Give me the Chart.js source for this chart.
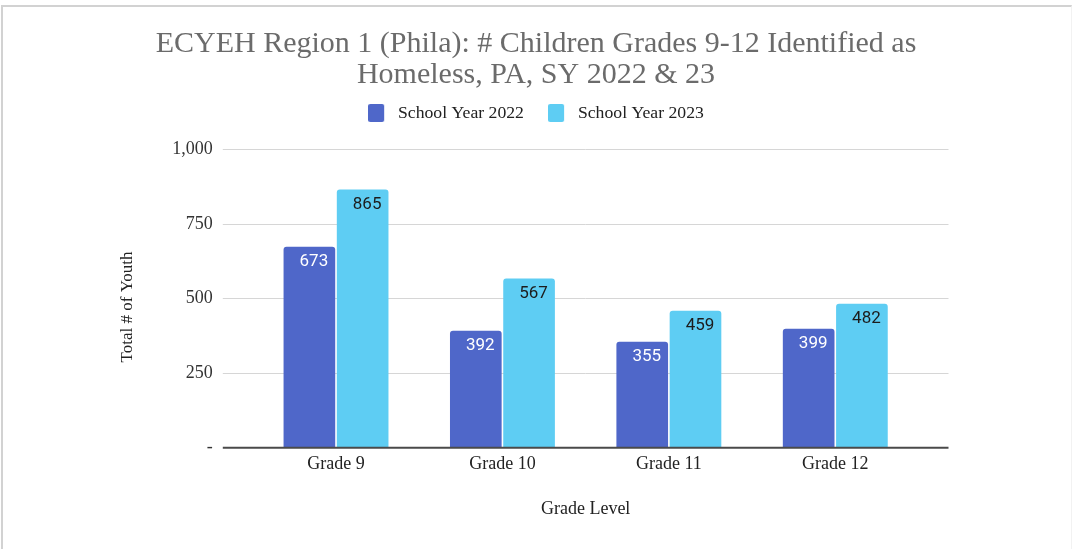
<!DOCTYPE html>
<html>
<head>
<meta charset="utf-8">
<script src="https://cdn.jsdelivr.net/npm/chart.js@4.4.0/dist/chart.umd.min.js"></script>
<style>
  html, body { margin: 0; padding: 0; background: #fff; }
  #wrap { position: relative; width: 1072px; height: 549px; overflow: hidden; }
  #frame { position: absolute; left: 1px; top: 5px; right: 0; bottom: -10px;
           border-top: 2px solid #d2d2d2; border-left: 2px solid #d2d2d2; border-right: 1px solid #f2f2f2; }
  canvas { position: absolute; left: 0; top: 0; }
</style>
</head>
<body>
<div id="wrap">
  <div id="frame"></div>
  <canvas id="grafico" width="1072" height="549"></canvas>
</div>
<script>
// dados do gráfico
const categorias = ["Grade 9", "Grade 10", "Grade 11", "Grade 12"];
const nomesSeries = ["School Year 2022", "School Year 2023"];
const valores2022 = [673, 392, 355, 399];
const valores2023 = [865, 567, 459, 482];
const ticksY = [0, 250, 500, 750, 1000];
const tituloLinhas = ["ECYEH Region 1 (Phila): # Children Grades 9-12 Identified as", "Homeless, PA, SY 2022 & 23"];

const coresBarras = ["#4f67c9", "#5ecdf3"];
const coresRotulos = ["#ffffff", "#1c1c1c"];
const serif = "'Liberation Serif', 'DejaVu Serif', serif";

// caixinha da legenda (retângulo arredondado)
function caixaLegenda(cor) {
  const c = document.createElement("canvas");
  c.width = 21;
  c.height = 18;
  const g = c.getContext("2d");
  g.fillStyle = cor;
  g.beginPath();
  if (g.roundRect) g.roundRect(0, 0, 16, 18, 2);
  else g.rect(0, 0, 16, 18);
  g.fill();
  return c;
}
const caixas = coresBarras.map(caixaLegenda);

// linhas de grade mais largas que a área das categorias
const linhasGrade = {
  id: "linhasGrade",
  beforeDatasetsDraw(chart) {
    const { ctx, chartArea, scales } = chart;
    ctx.save();
    ctx.strokeStyle = "#d6d6d6";
    ctx.lineWidth = 1;
    ticksY.forEach((v) => {
      if (v === 0) return;
      const y = Math.round(scales.y.getPixelForValue(v)) + 0.5;
      ctx.beginPath();
      ctx.moveTo(chartArea.left - 30, y);
      ctx.lineTo(chartArea.right + 30, y);
      ctx.stroke();
    });
    ctx.restore();
  },
  afterDatasetsDraw(chart) {
    const { ctx, chartArea, scales } = chart;
    const y = scales.y.getPixelForValue(0);
    ctx.save();
    ctx.strokeStyle = "#4a4a4a";
    ctx.lineWidth = 2;
    ctx.beginPath();
    ctx.moveTo(chartArea.left - 30, y);
    ctx.lineTo(chartArea.right + 30, y);
    ctx.stroke();
    ctx.restore();
  },
};

// valores escritos dentro das barras
const rotulosBarras = {
  id: "rotulosBarras",
  afterDatasetsDraw(chart) {
    const ctx = chart.ctx;
    ctx.save();
    ctx.font = "17px Roboto, 'Liberation Sans', sans-serif";
    ctx.textAlign = "right";
    ctx.textBaseline = "middle";
    chart.data.datasets.forEach((ds, i) => {
      chart.getDatasetMeta(i).data.forEach((barra, j) => {
        ctx.fillStyle = coresRotulos[i];
        ctx.fillText(ds.data[j], barra.x + barra.width / 2 - 7, barra.y + 15);
      });
    });
    ctx.restore();
  },
};

const dados = {
  labels: categorias,
  datasets: [
    {
      label: nomesSeries[0],
      data: valores2022,
      backgroundColor: coresBarras[0],
      borderRadius: 3,
      categoryPercentage: 0.64,
      barPercentage: 0.97,
    },
    {
      label: nomesSeries[1],
      data: valores2023,
      backgroundColor: coresBarras[1],
      borderRadius: 3,
      categoryPercentage: 0.64,
      barPercentage: 0.97,
    },
  ],
};

const config = {
  type: "bar",
  data: dados,
  plugins: [linhasGrade, rotulosBarras],
  options: {
    responsive: false,
    animation: false,
    devicePixelRatio: 1,
    layout: { padding: 0 },
    plugins: {
      title: {
        display: true,
        text: tituloLinhas,
        color: "#6b6b6b",
        font: { family: serif, size: 30, weight: "normal", lineHeight: 1.033 },
        padding: { top: 28.5, bottom: -10.5 },
      },
      legend: {
        position: "top",
        labels: {
          color: "#222",
          font: { family: serif, size: 17.7 },
          usePointStyle: true,
          pointStyleWidth: 21,
          padding: 24.15,
          generateLabels: (chart) =>
            Chart.defaults.plugins.legend.labels.generateLabels(chart).map((item, i) => {
              item.pointStyle = caixas[i];
              return item;
            }),
        },
      },
      tooltip: { enabled: false },
    },
    scales: {
      x: {
        grid: { display: false, drawTicks: false },
        border: { display: false },
        ticks: { color: "#222", font: { family: serif, size: 18 }, padding: 6 },
        title: {
          display: true,
          text: "Grade Level",
          color: "#222",
          font: { family: serif, size: 18 },
          padding: { top: 0, bottom: 29.2 },
        },
        afterFit: (s) => { s.height = 101.3; },
      },
      y: {
        min: 0,
        max: 1000,
        afterBuildTicks: (s) => { s.ticks = ticksY.map((v) => ({ value: v })); },
        grid: { display: false, drawTicks: false },
        border: { display: false },
        ticks: {
          color: "#333",
          font: { family: serif, size: 18 },
          padding: 40,
          callback: (v) => (v === 0 ? "-" : v.toLocaleString("en-US")),
        },
        title: {
          display: true,
          text: "Total # of Youth    ",
          color: "#222",
          font: { family: serif, size: 17 },
          padding: { top: 117.5, bottom: 0 },
        },
        afterFit: (s) => { s.width = 252.8; },
      },
      xTopo: {
        type: "category",
        position: "top",
        grid: { display: false, drawTicks: false },
        border: { display: false },
        ticks: { display: false },
        afterFit: (s) => { s.height = 17.45; },
      },
      yDireita: {
        type: "linear",
        position: "right",
        grid: { display: false, drawTicks: false },
        border: { display: false },
        ticks: { display: false },
        afterFit: (s) => { s.width = 153.5; },
      },
    },
  },
};

const grafico = new Chart(document.getElementById("grafico"), config);
</script>
</body>
</html>
